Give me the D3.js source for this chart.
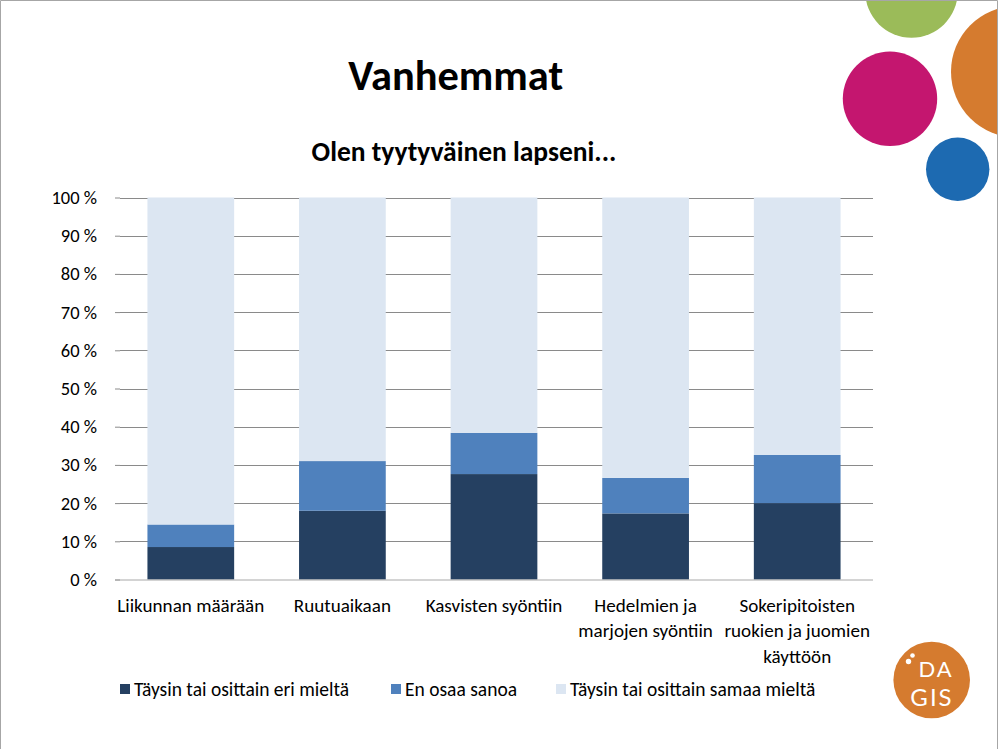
<!DOCTYPE html>
<html>
<head>
<meta charset="utf-8">
<script src="https://cdn.jsdelivr.net/npm/d3@7"></script>
<style>
  html, body { margin: 0; padding: 0; background: #fff; }
  svg { display: block; }
  text { font-family: Carlito, Calibri, Lato, "Liberation Sans", sans-serif; fill: #000; }
</style>
</head>
<body>
<svg id="chart" width="999" height="749"></svg>
<script>
// ---- data ----
const pageTitle = "Vanhemmat";
const chartTitle = "Olen tyytyväinen lapseni...";
const categories = ["Liikunnan määrään", "Ruutuaikaan", "Kasvisten syöntiin", "Hedelmien ja marjojen syöntiin", "Sokeripitoisten ruokien ja juomien käyttöön"];
const seriesNames = ["Täysin tai osittain eri mieltä", "En osaa sanoa", "Täysin tai osittain samaa mieltä"];
const disagree = [8.5, 18.0, 27.6, 17.3, 20.0];
const dontKnow = [5.9, 13.0, 10.8, 9.3, 12.6];
const agree = [85.6, 69.0, 61.6, 73.4, 67.4];
const yTicks = [0, 10, 20, 30, 40, 50, 60, 70, 80, 90, 100];
const seriesColors = ["#254061", "#4F81BD", "#DCE6F2"];

const svg = d3.select("#chart");
const W = 999, H = 749;

// slide decorations
const defs = svg.append("defs");
defs.append("clipPath").attr("id", "slideClip").append("rect")
  .attr("x", 0).attr("y", 0).attr("width", 997).attr("height", H);
const deco = svg.append("g").attr("clip-path", "url(#slideClip)");
deco.append("circle").attr("cx", 911.5).attr("cy", -8.6).attr("r", 46.3).attr("fill", "#9BBB59");
deco.append("circle").attr("cx", 890).attr("cy", 98.8).attr("r", 47.2).attr("fill", "#C4166F");
deco.append("circle").attr("cx", 1016.8).attr("cy", 71.8).attr("r", 65.8).attr("fill", "#D57B2F");
deco.append("circle").attr("cx", 957.7).attr("cy", 169.3).attr("r", 31.7).attr("fill", "#1D6AB1");

// slide border
svg.append("path").attr("d", `M0.5,${H} V0.5 H997.5 V${H}`)
  .attr("fill", "none").attr("stroke", "#a6a6a6").attr("stroke-width", 1);

// fit helper
function fitText(sel, target) {
  const n = sel.node();
  const fs = parseFloat(sel.attr("font-size"));
  const len = n.getComputedTextLength();
  sel.attr("font-size", (fs * target / len).toFixed(2));
}

// titles
const t1 = svg.append("text").attr("x", 455.7).attr("y", 90).attr("text-anchor", "middle")
  .attr("font-weight", "bold").attr("font-size", 40).text(pageTitle);
fitText(t1, 215);
const t2 = svg.append("text").attr("x", 464).attr("y", 161).attr("text-anchor", "middle")
  .attr("font-weight", "bold").attr("font-size", 24).text(chartTitle);
fitText(t2, 305);

// scales
const x = d3.scaleBand().domain(categories).range([115, 873]).paddingInner(0.428).paddingOuter(0.214);
const y = d3.scaleLinear().domain([0, 100]).range([579.5, 197.5]);

// gridlines
svg.append("g").selectAll("line").data(yTicks.filter(d => d > 0)).join("line")
  .attr("x1", 120).attr("x2", 873)
  .attr("y1", d => Math.round(y(d)) + 0.5).attr("y2", d => Math.round(y(d)) + 0.5)
  .attr("stroke", "#8a8a8a").attr("stroke-width", 1);

// y axis
const yAxis = svg.append("g").attr("transform", "translate(120,0)")
  .call(d3.axisLeft(y).tickValues(yTicks).tickFormat(d => d + " %").tickSize(5).tickPadding(18));
yAxis.select(".domain").remove();
yAxis.selectAll(".tick line").attr("stroke", "#8a8a8a");
yAxis.selectAll(".tick text").attr("font-size", 18.5).attr("fill", "#000")
  .style("font-family", "Carlito, Calibri, Lato, sans-serif");

// stacked data
const rows = categories.map((c, i) => ({ cat: c, s0: disagree[i], s1: dontKnow[i], s2: agree[i] }));
const stack = d3.stack().keys(["s0", "s1", "s2"]);
const stacked = stack(rows);

svg.append("g").selectAll("g").data(stacked).join("g")
  .attr("fill", (d, i) => seriesColors[i])
  .selectAll("rect").data(d => d).join("rect")
  .attr("x", d => x(d.data.cat))
  .attr("width", x.bandwidth())
  .attr("y", d => y(d[1]))
  .attr("height", d => y(d[0]) - y(d[1]));

// x axis line
svg.append("line").attr("x1", 115).attr("x2", 873).attr("y1", 580).attr("y2", 580)
  .attr("stroke", "#a8a8a8").attr("stroke-width", 1);

// x labels with wrapping
const xFont = 19.1;
const xl = svg.append("g");
categories.forEach(c => {
  const t = xl.append("text").attr("text-anchor", "middle").attr("font-size", xFont);
  const cx = x(c) + x.bandwidth() / 2;
  const words = c.split(" ");
  let lines = [], cur = [];
  const probe = svg.append("text").attr("font-size", xFont).attr("opacity", 0);
  words.forEach(w => {
    const trial = cur.concat([w]).join(" ");
    probe.text(trial);
    if (cur.length && probe.node().getComputedTextLength() > 158) {
      lines.push(cur.join(" ")); cur = [w];
    } else cur.push(w);
  });
  lines.push(cur.join(" "));
  probe.remove();
  lines.forEach((ln, k) => {
    t.append("tspan").attr("x", cx).attr("y", 611.7 + k * 25.7).text(ln);
  });
});

// legend
const legendX = [120, 391, 556];
const lg = svg.append("g");
seriesNames.forEach((s, i) => {
  lg.append("rect").attr("x", legendX[i]).attr("y", 684).attr("width", 10).attr("height", 10)
    .attr("fill", seriesColors[i]);
  lg.append("text").attr("x", legendX[i] + 14).attr("y", 695.5).attr("font-size", 19.5).text(s);
});

// DAGIS logo
const logo = svg.append("g");
logo.append("circle").attr("cx", 931.7).attr("cy", 680).attr("r", 38.3).attr("fill", "#D57B2F");
logo.append("circle").attr("cx", 912.5).attr("cy", 655.5).attr("r", 2.3).attr("fill", "#fff");
logo.append("circle").attr("cx", 908.5).attr("cy", 661.5).attr("r", 2.7).attr("fill", "#fff");
logo.append("text").attr("x", 936).attr("y", 677).attr("text-anchor", "middle")
  .attr("font-size", 22).attr("font-weight", 400).attr("letter-spacing", 2)
  .style("fill", "#fff").style("font-family", "Lato, 'Open Sans', sans-serif").text("DA");
logo.append("text").attr("x", 932).attr("y", 706).attr("text-anchor", "middle")
  .attr("font-size", 24).attr("font-weight", 400).attr("letter-spacing", 2)
  .style("fill", "#fff").style("font-family", "Lato, 'Open Sans', sans-serif").text("GIS");
</script>
</body>
</html>
